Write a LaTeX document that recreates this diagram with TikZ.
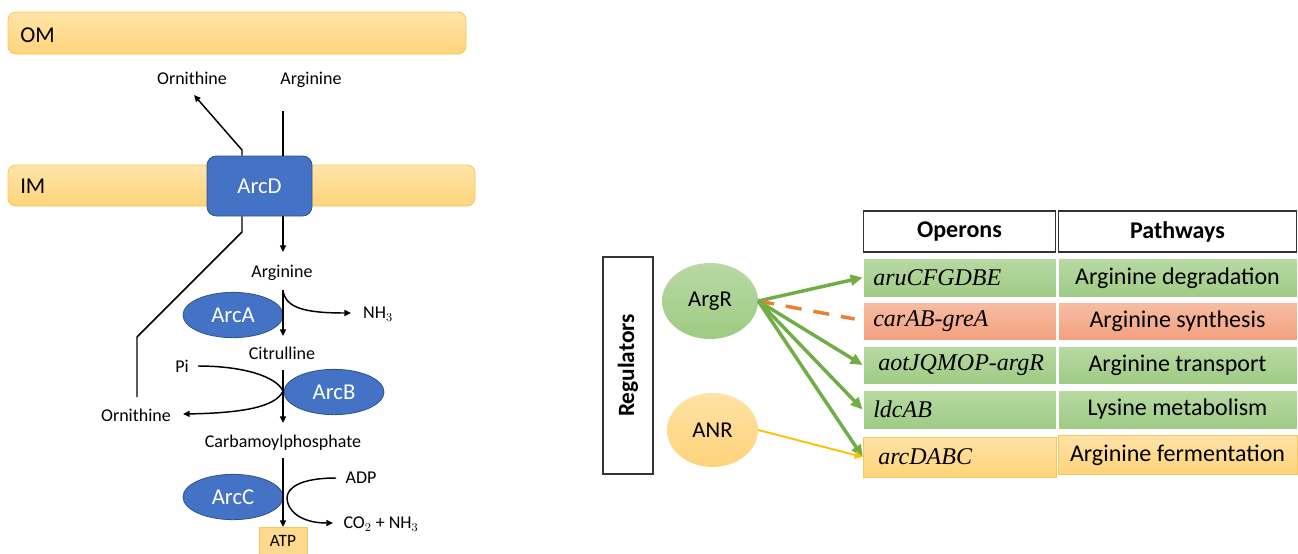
\documentclass[tikz,border=0pt]{standalone}
\usepackage{fontspec}
\setmainfont{Carlito}
\newfontfamily\tms{Liberation Serif}
\usetikzlibrary{arrows.meta,shapes.geometric,calc}
\definecolor{memtop}{HTML}{FFE4A8}
\definecolor{membot}{HTML}{FFD47C}
\definecolor{memdraw}{HTML}{F6C75C}
\definecolor{enzblue}{HTML}{4472C4}
\definecolor{enzdraw}{HTML}{2F528F}
\definecolor{grtop}{HTML}{B8D9A3}
\definecolor{grbot}{HTML}{9ECB84}
\definecolor{satop}{HTML}{F7BDA3}
\definecolor{sabot}{HTML}{F2A07F}
\definecolor{ortop}{HTML}{FFE2A6}
\definecolor{orbot}{HTML}{FFD37A}
\definecolor{grarrow}{HTML}{70AD47}
\definecolor{orarrow}{HTML}{ED7D31}
\definecolor{yelarrow}{HTML}{FFC000}
\begin{document}
\begin{tikzpicture}[x=0.75pt,y=-0.75pt,
  mem/.style={rectangle,rounded corners=6pt,top color=memtop,bottom color=membot,draw=memdraw,line width=0.6pt},
  memlbl/.style={anchor=west,inner sep=0pt,font=\fontsize{17}{20}\selectfont},
  enz/.style={ellipse,fill=enzblue,draw=enzdraw,line width=0.6pt,text=white,font=\fontsize{17}{20}\selectfont,minimum width=75pt,minimum height=34pt,inner sep=0pt},
  met/.style={inner sep=0pt,font=\fontsize{13.5}{16}\selectfont},
  ln/.style={line width=1.1pt,black},
  arr/.style={ln,-{Triangle[length=5pt,width=4.5pt]}},
  hdr/.style={rectangle,draw=black!80,fill=white,line width=1.1pt,font=\bfseries\fontsize{18}{21}\selectfont},
  opgr/.style={rectangle,top color=grtop,bottom color=grbot,draw=white,line width=0.6pt},
  opsa/.style={rectangle,top color=satop,bottom color=sabot,draw=white,line width=0.6pt},
  opor/.style={rectangle,top color=ortop,bottom color=orbot,draw=memdraw,line width=0.4pt},
  optxt/.style={anchor=west,inner sep=0pt,font=\tms\itshape\fontsize{18}{21}\selectfont},
  pwtxt/.style={inner sep=0pt,font=\fontsize{18}{21}\selectfont},
  garr/.style={grarrow,line width=2.6pt,-{Triangle[length=9pt,width=8pt]}}
]
\useasboundingbox (0,0) rectangle (1298,553);

% ---------- membranes ----------
\node[mem,minimum width=343.5pt,minimum height=31.5pt] (OM) at (237,33) {};
\node[memlbl] (OMt) at (20,35) {OM};
\node[mem,minimum width=350.25pt,minimum height=30.75pt] (IM) at (241.5,185.5) {};
\node[memlbl] (IMt) at (20,186) {IM};

% ---------- ArcD ----------
\node[rectangle,rounded corners=7pt,fill=enzblue,draw=enzdraw,line width=0.6pt,text=white,
      font=\fontsize{17}{20}\selectfont,minimum width=78.75pt,minimum height=45pt] (ArcD) at (259.5,186) {ArcD};

% labels
\node[met] (ornTop) at (192,78) {Ornithine};
\node[met] (argTop) at (311,80) {Arginine};
\node[met] (arg) at (282,273) {Arginine};
\node[met] (nh3) at (378,314) {NH$_3$};
\node[met] (cit) at (282,353) {Citrulline};
\node[met] (pi) at (182,366) {Pi};
\node[met] (ornLow) at (136,415) {Ornithine};
\node[met] (carb) at (283,443) {Carbamoylphosphate};
\node[met] (adp) at (361,478) {ADP};
\node[met] (co2) at (381,524) {CO$_2$ + NH$_3$};

% enzymes
\node[enz] (ArcA) at (233,315) {ArcA};
\node[enz] (ArcB) at (334,392) {ArcB};
\node[enz] (ArcC) at (233,497) {ArcC};

% ATP
\node[rectangle,fill=orbot!85!white,draw=memdraw,line width=0.4pt,minimum width=36pt,minimum height=21pt,
      inner sep=0pt,font=\fontsize{13}{15}\selectfont,anchor=north] (ATP) at (283,527) {\raisebox{-3pt}{ATP}};

% coordinates
\coordinate (aIn) at (283,111);
\coordinate (oOutA) at (242,150);
\coordinate (oOutB) at (194,95);
\coordinate (l1) at (242,232);
\coordinate (l2) at (137,337);
\coordinate (l3) at (137,397);
\coordinate (a2) at (283,252);
\coordinate (a3s) at (283,290);
\coordinate (a3e) at (283,336);
\coordinate (a4s) at (283,370);
\coordinate (a4e) at (283,423);
\coordinate (a5s) at (283,458);

% transport
\draw[ln] (aIn) -- (aIn |- ArcD.north);
\draw[arr] (aIn |- ArcD.south) -- (a2);
\draw[arr] (oOutA |- ArcD.north) -- (oOutA) -- (oOutB);
\draw[ln] (l1 |- ArcD.south) -- (l1) -- (l2) -- (l3);

% pathway
\draw[arr] (a3s) -- (a3e);
\draw[arr] (a3s) .. controls (285,308) and (305,313) .. (351,313);
\draw[arr] (a4s) -- (a4e);
\draw[arr] (198,366) .. controls (242,366) and (276,376) .. (283,391)
                     .. controls (276,407) and (242,413) .. (183,414);
\draw[arr] (a5s) -- (ATP.north);
\draw[arr] (336,478) .. controls (300,478) and (287,488) .. (287,498)
                     .. controls (287,510) and (300,523) .. (333,523);

% ---------- right side ----------
\node[rectangle,draw=black!80,fill=white,line width=1.1pt,minimum width=37.5pt,minimum height=162.75pt] (Reg) at (628,365.5) {};
\node[rotate=90,inner sep=0pt,font=\bfseries\fontsize{17.5}{20}\selectfont] (RegT) at (628,365.5) {Regulators};

\node[ellipse,top color=grtop,bottom color=grbot,draw=none,minimum width=72pt,minimum height=57pt,
      inner sep=0pt,font=\fontsize{17}{20}\selectfont] (ArgR) at (710,301) {ArgR};
\node[ellipse,top color=ortop,bottom color=orbot,draw=none,minimum width=68.25pt,minimum height=55.5pt,
      inner sep=0pt,font=\fontsize{17}{20}\selectfont] (ANR) at (712.5,430) {ANR};

% headers
\node[hdr,minimum width=144pt,minimum height=31pt] (hOp) at (959.5,231.5) {Operons};
\node[hdr,minimum width=178.5pt,minimum height=31pt] (hPw) at (1177.5,231.5) {Pathways};

% operon boxes
\node[opgr,minimum width=144.75pt,minimum height=29.25pt] (op1) at (959.5,277.5) {};
\node[opsa,minimum width=144.75pt,minimum height=28.5pt] (op2) at (959.5,321) {};
\node[opgr,minimum width=144.75pt,minimum height=28.5pt] (op3) at (959.5,365) {};
\node[opgr,minimum width=144.75pt,minimum height=29.25pt] (op4) at (959.5,409.5) {};
\node[opor,minimum width=144.75pt,minimum height=30pt] (op5) at (959.5,457) {};

\node[optxt] (t1) at (873,278) {aruCFGDBE};
\node[optxt] (t2) at (873,321) {carAB-greA};
\node[optxt] (t3) at (878,365) {aotJQMOP-argR};
\node[optxt] (t4) at (873,409) {ldcAB};
\node[optxt] (t5) at (878,457) {arcDABC};

% pathway boxes
\node[opgr,minimum width=179.25pt,minimum height=29.25pt] (pw1) at (1177.5,277.5) {};
\node[opsa,minimum width=179.25pt,minimum height=28.5pt] (pw2) at (1177.5,321) {};
\node[opgr,minimum width=179.25pt,minimum height=28.5pt] (pw3) at (1177.5,365) {};
\node[opgr,minimum width=179.25pt,minimum height=29.25pt] (pw4) at (1177.5,409.5) {};
\node[opor,minimum width=179.25pt,minimum height=29.25pt] (pw5) at (1177.5,455) {};

\node[pwtxt] (p1) at (1177.5,278) {Arginine degradation};
\node[pwtxt] (p2) at (1177.5,321) {Arginine synthesis};
\node[pwtxt] (p3) at (1177.5,365) {Arginine transport};
\node[pwtxt] (p4) at (1177.5,409) {Lysine metabolism};
\node[pwtxt] (p5) at (1177.5,455) {Arginine fermentation};

% regulation arrows
\draw[garr] (ArgR.east) -- (op1.west);
\draw[orarrow,line width=2.6pt,dash pattern=on 12pt off 9pt] (ArgR.east) -- ($(op2.west)+(-8,-2)$);
\draw[garr] (ArgR.east) -- (op3.west);
\draw[garr] (ArgR.east) -- (op4.west);
\draw[garr] (ArgR.east) -- (op5.west);
\draw[yelarrow,line width=1.4pt,-{Triangle[length=6pt,width=5.5pt]}] (ANR.east) -- (op5.west);
\end{tikzpicture}
\end{document}
